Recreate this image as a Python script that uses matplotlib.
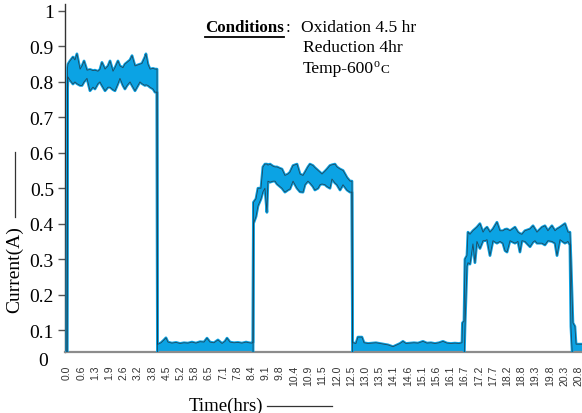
import matplotlib
matplotlib.use("Agg")
import matplotlib.pyplot as plt
from matplotlib.lines import Line2D
import numpy as np

plt.rcParams['font.family'] = ['Liberation Serif', 'DejaVu Serif']

# time axis labels (hrs), one per category tick
time_labels = ["0.0", "0.6", "1.3", "1.9", "2.6", "3.2", "3.8", "4.5", "5.2", "5.8",
               "6.5", "7.1", "7.8", "8.4", "9.1", "9.8", "10.4", "10.9", "11.5", "12.0",
               "12.5", "13.0", "13.5", "14.1", "14.6", "15.1", "15.6", "16.1", "16.7",
               "17.2", "17.7", "18.2", "18.8", "19.3", "19.8", "20.3", "20.8"]

# oxidation 1 (position in tick units, upper / lower current band in A)
ox1_pos = [-0.02, 0.00, 0.04, 0.07, 0.21, 0.42, 0.56, 0.70, 0.92, 1.06, 1.20, 1.41, 1.62,
           1.83, 1.97, 2.18, 2.32, 2.46, 2.68, 2.89, 3.03, 3.24, 3.38, 3.59, 3.73, 3.94,
           4.08, 4.23, 4.44, 4.58, 4.79, 5.00, 5.14, 5.28, 5.49, 5.56, 5.70, 5.85, 6.06,
           6.20, 6.34]
ox1_hi = [0.0, 0.02, 0.84, 0.850, 0.859, 0.870, 0.862, 0.879, 0.836, 0.845, 0.859, 0.833,
          0.835, 0.832, 0.833, 0.830, 0.835, 0.855, 0.836, 0.845, 0.859, 0.830, 0.840,
          0.859, 0.845, 0.840, 0.850, 0.855, 0.862, 0.874, 0.845, 0.848, 0.850, 0.852,
          0.870, 0.879, 0.850, 0.836, 0.838, 0.836, 0.836]
ox1_lo = [0.0, 0.0, 0.78, 0.814, 0.805, 0.794, 0.800, 0.795, 0.790, 0.790, 0.800, 0.810,
          0.775, 0.785, 0.780, 0.795, 0.800, 0.790, 0.775, 0.785, 0.785, 0.778, 0.775,
          0.795, 0.810, 0.790, 0.780, 0.790, 0.800, 0.790, 0.775, 0.790, 0.800, 0.795,
          0.790, 0.792, 0.790, 0.785, 0.780, 0.771, 0.771]

# reduction 1
red1_pos = [6.37, 6.41, 6.62, 6.83, 6.97, 7.11, 7.39, 7.68, 7.96, 8.24, 8.52, 8.80, 9.08,
            9.37, 9.65, 9.86, 10.07, 10.35, 10.63, 10.92, 11.13, 11.27, 11.48, 11.76,
            12.04, 12.32, 12.61, 12.82, 13.03, 13.10]
red1_hi = [0.060, 0.060, 0.064, 0.072, 0.078, 0.066, 0.063, 0.065, 0.062, 0.064, 0.063,
           0.066, 0.063, 0.067, 0.066, 0.077, 0.066, 0.064, 0.072, 0.062, 0.068, 0.077,
           0.066, 0.064, 0.065, 0.063, 0.066, 0.064, 0.063, 0.065]
red1_lo = [0.0] * len(red1_pos)

# oxidation 2
ox2_pos = [13.13, 13.31, 13.45, 13.66, 13.80, 13.94, 14.08, 14.15, 14.30, 14.51, 14.65,
           14.79, 15.00, 15.14, 15.35, 15.56, 15.70, 15.92, 16.20, 16.41, 16.62, 16.76,
           16.97, 17.11, 17.32, 17.46, 17.68, 17.82, 17.96, 18.17, 18.31, 18.52, 18.66,
           18.87, 19.01, 19.23, 19.44, 19.72, 19.93, 20.07]
ox2_hi = [0.46, 0.47, 0.50, 0.50, 0.56, 0.568, 0.568, 0.565, 0.568, 0.562, 0.560, 0.560,
          0.556, 0.554, 0.536, 0.540, 0.545, 0.564, 0.568, 0.540, 0.536, 0.545, 0.560,
          0.568, 0.564, 0.558, 0.550, 0.545, 0.540, 0.548, 0.554, 0.564, 0.566, 0.568,
          0.560, 0.554, 0.550, 0.530, 0.520, 0.520]
ox2_lo = [0.40, 0.42, 0.45, 0.47, 0.49, 0.500, 0.432, 0.520, 0.517, 0.520, 0.520, 0.512,
          0.505, 0.500, 0.489, 0.495, 0.498, 0.520, 0.500, 0.490, 0.489, 0.510, 0.520,
          0.515, 0.505, 0.495, 0.500, 0.510, 0.512, 0.510, 0.505, 0.500, 0.526, 0.515,
          0.510, 0.495, 0.510, 0.495, 0.489, 0.489]

# reduction 2
red2_pos = [20.11, 20.14, 20.35, 20.49, 20.77, 20.92, 21.20, 21.48, 21.76, 22.04, 22.32,
            22.61, 22.96, 23.24, 23.45, 23.66, 23.87, 24.15, 24.44, 24.72, 25.07, 25.35,
            25.63, 25.92, 26.20, 26.48, 26.76, 27.04, 27.32, 27.61, 27.82, 27.85, 27.96]
red2_hi = [0.070, 0.064, 0.062, 0.080, 0.080, 0.064, 0.062, 0.063, 0.064, 0.062, 0.060,
           0.058, 0.053, 0.058, 0.062, 0.068, 0.062, 0.063, 0.064, 0.063, 0.068, 0.063,
           0.064, 0.062, 0.064, 0.068, 0.063, 0.062, 0.063, 0.062, 0.064, 0.120, 0.125]
red2_lo = [0.0] * len(red2_pos)

# oxidation 3
ox3_pos = [28.03, 28.17, 28.24, 28.38, 28.59, 28.73, 28.87, 29.08, 29.30, 29.44, 29.58,
           29.79, 30.00, 30.28, 30.49, 30.70, 30.85, 30.99, 31.20, 31.55, 31.76, 31.90,
           32.04, 32.25, 32.61, 32.82, 32.96, 33.10, 33.45, 33.66, 33.87, 34.15, 34.37,
           34.51, 34.72, 35.07, 35.28, 35.42, 35.49]
ox3_hi = [0.30, 0.31, 0.376, 0.370, 0.380, 0.385, 0.390, 0.400, 0.376, 0.385, 0.390,
          0.376, 0.385, 0.404, 0.380, 0.380, 0.384, 0.385, 0.380, 0.390, 0.376, 0.372,
          0.370, 0.380, 0.385, 0.394, 0.385, 0.376, 0.390, 0.394, 0.380, 0.394, 0.380,
          0.385, 0.390, 0.400, 0.376, 0.376, 0.300]
ox3_lo = [0.11, 0.28, 0.290, 0.286, 0.343, 0.290, 0.350, 0.330, 0.352, 0.352, 0.355,
          0.310, 0.352, 0.345, 0.350, 0.345, 0.324, 0.320, 0.352, 0.345, 0.350, 0.320,
          0.352, 0.350, 0.335, 0.348, 0.352, 0.345, 0.345, 0.340, 0.352, 0.350, 0.345,
          0.310, 0.355, 0.345, 0.350, 0.340, 0.110]

# reduction 3 (tail)
red3_pos = [35.63, 35.77, 35.85, 36.27]
red3_hi = [0.120, 0.110, 0.060, 0.060]
red3_lo = [0.0, 0.0, 0.0, 0.0]

pos = np.concatenate([ox1_pos, red1_pos, ox2_pos, red2_pos, ox3_pos, red3_pos])
hi = np.concatenate([ox1_hi, red1_hi, ox2_hi, red2_hi, ox3_hi, red3_hi])
lo = np.concatenate([ox1_lo, red1_lo, ox2_lo, red2_lo, ox3_lo, red3_lo])

blue = '#0ba3e4'
dark = '#24323c'

fig = plt.figure(figsize=(5.82, 4.14), dpi=100)
ax = fig.add_axes([65 / 582, 61 / 414, 517 / 582, 348 / 414])

ax.fill_between(pos, lo, hi, color=blue, linewidth=0, zorder=2)
ax.plot(pos, hi, color=blue, lw=2.0, zorder=3, solid_joinstyle='round')
ax.plot(pos, lo, color=blue, lw=2.0, zorder=3, solid_joinstyle='round')
ax.plot(pos, hi, color=dark, lw=0.6, alpha=0.8, zorder=4)
ax.plot(pos, lo, color=dark, lw=0.6, alpha=0.8, zorder=4)

ax.set_xlim(-0.14, 36.27)
ax.set_ylim(0.038, 1.0197)

ax.set_xticks(np.arange(len(time_labels)))
ax.set_xticklabels(time_labels, rotation=90, family='Liberation Sans', fontsize=7.5,
                   color='#333333')
ax.tick_params(axis='x', length=0, pad=9)

ax.set_yticks([0.1, 0.2, 0.3, 0.4, 0.5, 0.6, 0.7, 0.8, 0.9, 1.0])
ax.set_yticklabels(['0.1', '0.2', '0.3', '0.4', '0.5', '0.6', '0.7', '0.8', '0.9', '1'],
                   fontsize=14)
ax.tick_params(axis='y', length=5, width=1, color='#555555', pad=3)

for s in ['top', 'right']:
    ax.spines[s].set_visible(False)
ax.spines['bottom'].set_color('#8c8c8c')
ax.spines['bottom'].set_linewidth(1.6)
ax.spines['left'].set_color('#333333')
ax.spines['left'].set_linewidth(1.0)

# zero label sits below the axis line
fig.text(43 / 582, 1 - 362 / 414, '0', fontsize=14, ha='center', va='center')

# axis titles with trailing rules
fig.text(15 / 582, 1 - 270 / 414, 'Current(A)', fontsize=14, rotation=90,
         ha='center', va='center')
fig.add_artist(Line2D([15 / 582, 15 / 582], [1 - 218 / 414, 1 - 153 / 414],
                      color='#333333', lw=0.9))
fig.text(226 / 582, 1 - 406 / 414, 'Time(hrs)', fontsize=13.5, ha='center', va='center')
fig.add_artist(Line2D([267 / 582, 332 / 582], [1 - 407 / 414, 1 - 407 / 414],
                      color='#333333', lw=0.9))

# test conditions note
cond = fig.text(205 / 582, 1 - 28 / 414, 'Conditions', fontsize=12.2, fontweight='bold',
                ha='left', va='center')
ax.annotate(':', xy=(1, 0.5), xycoords=cond, xytext=(1, 0), textcoords='offset points',
            fontsize=12.5, ha='left', va='center')
fig.text(301 / 582, 1 - 28 / 414, 'Oxidation 4.5 hr', fontsize=12.6, ha='left', va='center')
fig.text(303 / 582, 1 - 48 / 414, 'Reduction 4hr', fontsize=12.6, ha='left', va='center')
temp = fig.text(303 / 582, 1 - 69 / 414, 'Temp-600', fontsize=12.6, ha='left', va='center')
ax.annotate('o', xy=(1, 0.8), xycoords=temp, xytext=(-0.5, 0),
            textcoords='offset points', fontsize=8.5, ha='left', va='center')
ax.annotate('C', xy=(1, 0.45), xycoords=temp, xytext=(4.8, 0),
            textcoords='offset points', fontsize=9.5, ha='left', va='center')

fig.canvas.draw()
bb = cond.get_window_extent().transformed(fig.transFigure.inverted())
fig.add_artist(Line2D([bb.x0, bb.x1], [bb.y0 - 0.004, bb.y0 - 0.004],
                      color='black', lw=1.3))

fig.savefig('out.png', dpi=100)
